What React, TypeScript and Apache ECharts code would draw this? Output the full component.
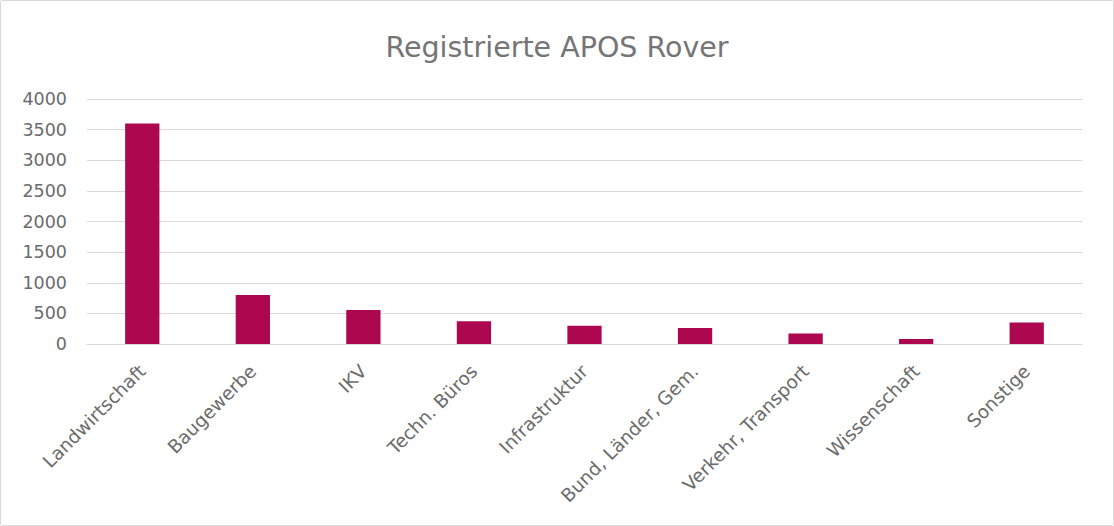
import React, { useEffect, useRef } from "react";
import * as echarts from "echarts";

const categories = [
  "Landwirtschaft",
  "Baugewerbe",
  "IKV",
  "Techn. Büros",
  "Infrastruktur",
  "Bund, Länder, Gem.",
  "Verkehr, Transport",
  "Wissenschaft",
  "Sonstige",
];
const values = [3600, 800, 555, 370, 300, 260, 170, 80, 350];
const yTicks = { min: 0, max: 4000, interval: 500 };
const titleText = "Registrierte APOS Rover";

export default function App() {
  const ref = useRef<HTMLDivElement>(null);
  useEffect(() => {
    document.body.style.margin = "0";
    const chart = echarts.init(ref.current!, null, { renderer: "svg" });
    const font = "'DejaVu Sans', sans-serif";
    chart.setOption({
      animation: false,
      backgroundColor: "#ffffff",
      title: {
        text: titleText,
        left: "center",
        top: 27,
        textStyle: { fontFamily: font, fontSize: 28.5, fontWeight: "normal", color: "#757575" },
      },
      grid: { left: 86, right: 31, top: 98, bottom: 181, containLabel: false },
      xAxis: {
        type: "category",
        data: categories,
        axisLine: { lineStyle: { color: "#d9d9d9", width: 1 } },
        axisTick: { show: false },
        axisLabel: {
          rotate: 45,
          interval: 0,
          margin: 24,
          fontFamily: font,
          fontSize: 18.5,
          color: "#6b6b6b",
        },
      },
      yAxis: {
        type: "value",
        min: yTicks.min,
        max: yTicks.max,
        interval: yTicks.interval,
        axisLine: { show: false },
        axisTick: { show: false },
        splitLine: { lineStyle: { color: "#d9d9d9", width: 1 } },
        axisLabel: {
          fontFamily: font,
          fontSize: 17.5,
          color: "#6b6b6b",
          margin: 20,
          formatter: (v: number) => String(v),
        },
      },
      series: [
        {
          type: "bar",
          data: values,
          barWidth: "31%",
          itemStyle: { color: "#AD074F" },
        },
      ],
    });
    return () => chart.dispose();
  }, []);
  return (
    <div
      style={{
        position: "absolute",
        left: 0,
        top: 0,
        width: 1114,
        height: 526,
        boxSizing: "border-box",
        border: "1px solid #d9d9d9",
        borderRadius: 2,
      }}
    >
      <div ref={ref} style={{ width: 1112, height: 524 }} />
    </div>
  );
}
